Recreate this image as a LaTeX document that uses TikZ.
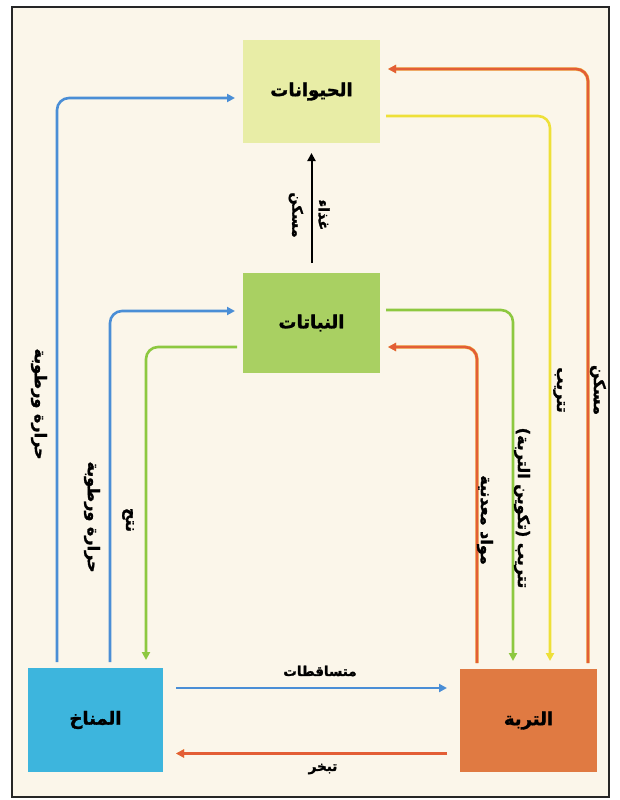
\documentclass[tikz,border=0pt]{standalone}
\usepackage{fontspec}
\newfontfamily\arabicfont[Script=Arabic, BoldFeatures={FakeBold=1.6}]{DejaVu Sans}
\TeXXeTstate=1
\usetikzlibrary{arrows.meta}
\definecolor{bgc}{HTML}{FBF6EA}
\definecolor{animC}{HTML}{E8EDA6}
\definecolor{plantC}{HTML}{A9D062}
\definecolor{climC}{HTML}{3DB5DD}
\definecolor{soilC}{HTML}{E07A42}
\definecolor{blueL}{HTML}{4A8ED6}
\definecolor{greenL}{HTML}{8DC840}
\definecolor{orangeL}{HTML}{E35E36}
\definecolor{orangeE}{HTML}{F2C24A}
\definecolor{yellowL}{HTML}{EEE038}
\newcommand\artxt[1]{{\arabicfont\bfseries\beginR #1\endR}}
\begin{document}
\begin{tikzpicture}[x=1pt,y=-1pt,
  box/.style={inner sep=0pt, outer sep=0pt, minimum width=137pt, minimum height=103pt, font=\fontsize{18}{20}\selectfont},
  conn/.style={line width=2.6pt, rounded corners=12pt, shorten <=6pt, shorten >=8pt, -{Triangle[length=8pt,width=8pt]}},
  bluea/.style={conn, draw=blueL, blueL},
  greena/.style={conn, draw=greenL, greenL},
  orangea/.style={conn, draw=orangeL, orangeL, preaction={draw=orangeE, line width=3.4pt, -{Triangle[length=8pt,width=8pt]}}},
  yellowa/.style={conn, draw=yellowL, yellowL},
  blacka/.style={conn, draw=black, black, line width=2pt, shorten <=10pt, shorten >=10pt},
  lbl/.style={font=\fontsize{13.5}{15}\selectfont, inner sep=1pt},
  vlbl/.style={font=\fontsize{16}{18}\selectfont, inner sep=1pt, rotate=-90},
  mlbl/.style={font=\fontsize{14.5}{16}\selectfont, inner sep=1pt, rotate=-90}]
\useasboundingbox (0,0) rectangle (620,800);
\fill[white] (0,0) rectangle (620,800);
\draw[fill=bgc, line width=2pt, draw=black!85] (12,7) rectangle (609,797);

\node[box, fill=animC] (anim) at (311.5,91.5) {\artxt{الحيوانات}};
\node[box, fill=plantC, minimum height=100pt] (plants) at (311.5,323) {\artxt{النباتات}};
\node[box, fill=climC, minimum width=135pt, minimum height=104pt] (clim) at (95.5,720) {\artxt{المناخ}};
\node[box, fill=soilC] (soil) at (528.5,720.5) {\artxt{التربة}};

\draw[bluea] ([xshift=29pt]clim.north west) |- ([yshift=-6.5pt]anim.west);
\draw[bluea] ([xshift=82pt]clim.north west) |- ([yshift=12pt]plants.west);
\draw[greena] ([yshift=-24pt]plants.west) -| ([xshift=118pt]clim.north west);
\draw[blacka] (plants.north) -- (anim.south);
\draw[orangea] ([xshift=128pt]soil.north west) |- ([yshift=22.5pt]anim.east);
\draw[yellowa] ([yshift=-24.5pt]anim.east) -| ([xshift=90pt]soil.north west);
\draw[greena] ([yshift=13pt]plants.east) -| ([xshift=53pt]soil.north west);
\draw[orangea] ([xshift=17pt]soil.north west) |- ([yshift=-24pt]plants.east);
\draw[bluea, shorten <=13pt, shorten >=13pt] ([yshift=32pt]clim.east) -- ([yshift=32pt]clim.east -| soil.west);
\draw[orangea, shorten <=13pt, shorten >=13pt] ([yshift=-33pt]soil.west) -- ([yshift=-33pt]soil.west -| clim.east);

\node[vlbl] (l1) at (39,404) {\artxt{حرارة ورطوبة}};
\node[vlbl] (l2) at (92,517) {\artxt{حرارة ورطوبة}};
\node[vlbl] (l3) at (128,520) {\artxt{نتح}};
\node[mlbl] (l4) at (296,215) {\artxt{مسكن}};
\node[mlbl] (l5) at (324,215) {\artxt{غذاء}};
\node[vlbl] (l6) at (485,520) {\artxt{مواد معدنية}};
\node[vlbl] (l7) at (522,508) {\artxt{تتريب (تكوين التربة)}};
\node[vlbl] (l8) at (559,390) {\artxt{تتريب}};
\node[vlbl] (l9) at (598,390) {\artxt{مسكن}};
\node[lbl] (l10) at (320,671) {\artxt{متساقطات}};
\node[lbl] (l11) at (323,769) {\artxt{تبخر}};
\end{tikzpicture}
\end{document}
